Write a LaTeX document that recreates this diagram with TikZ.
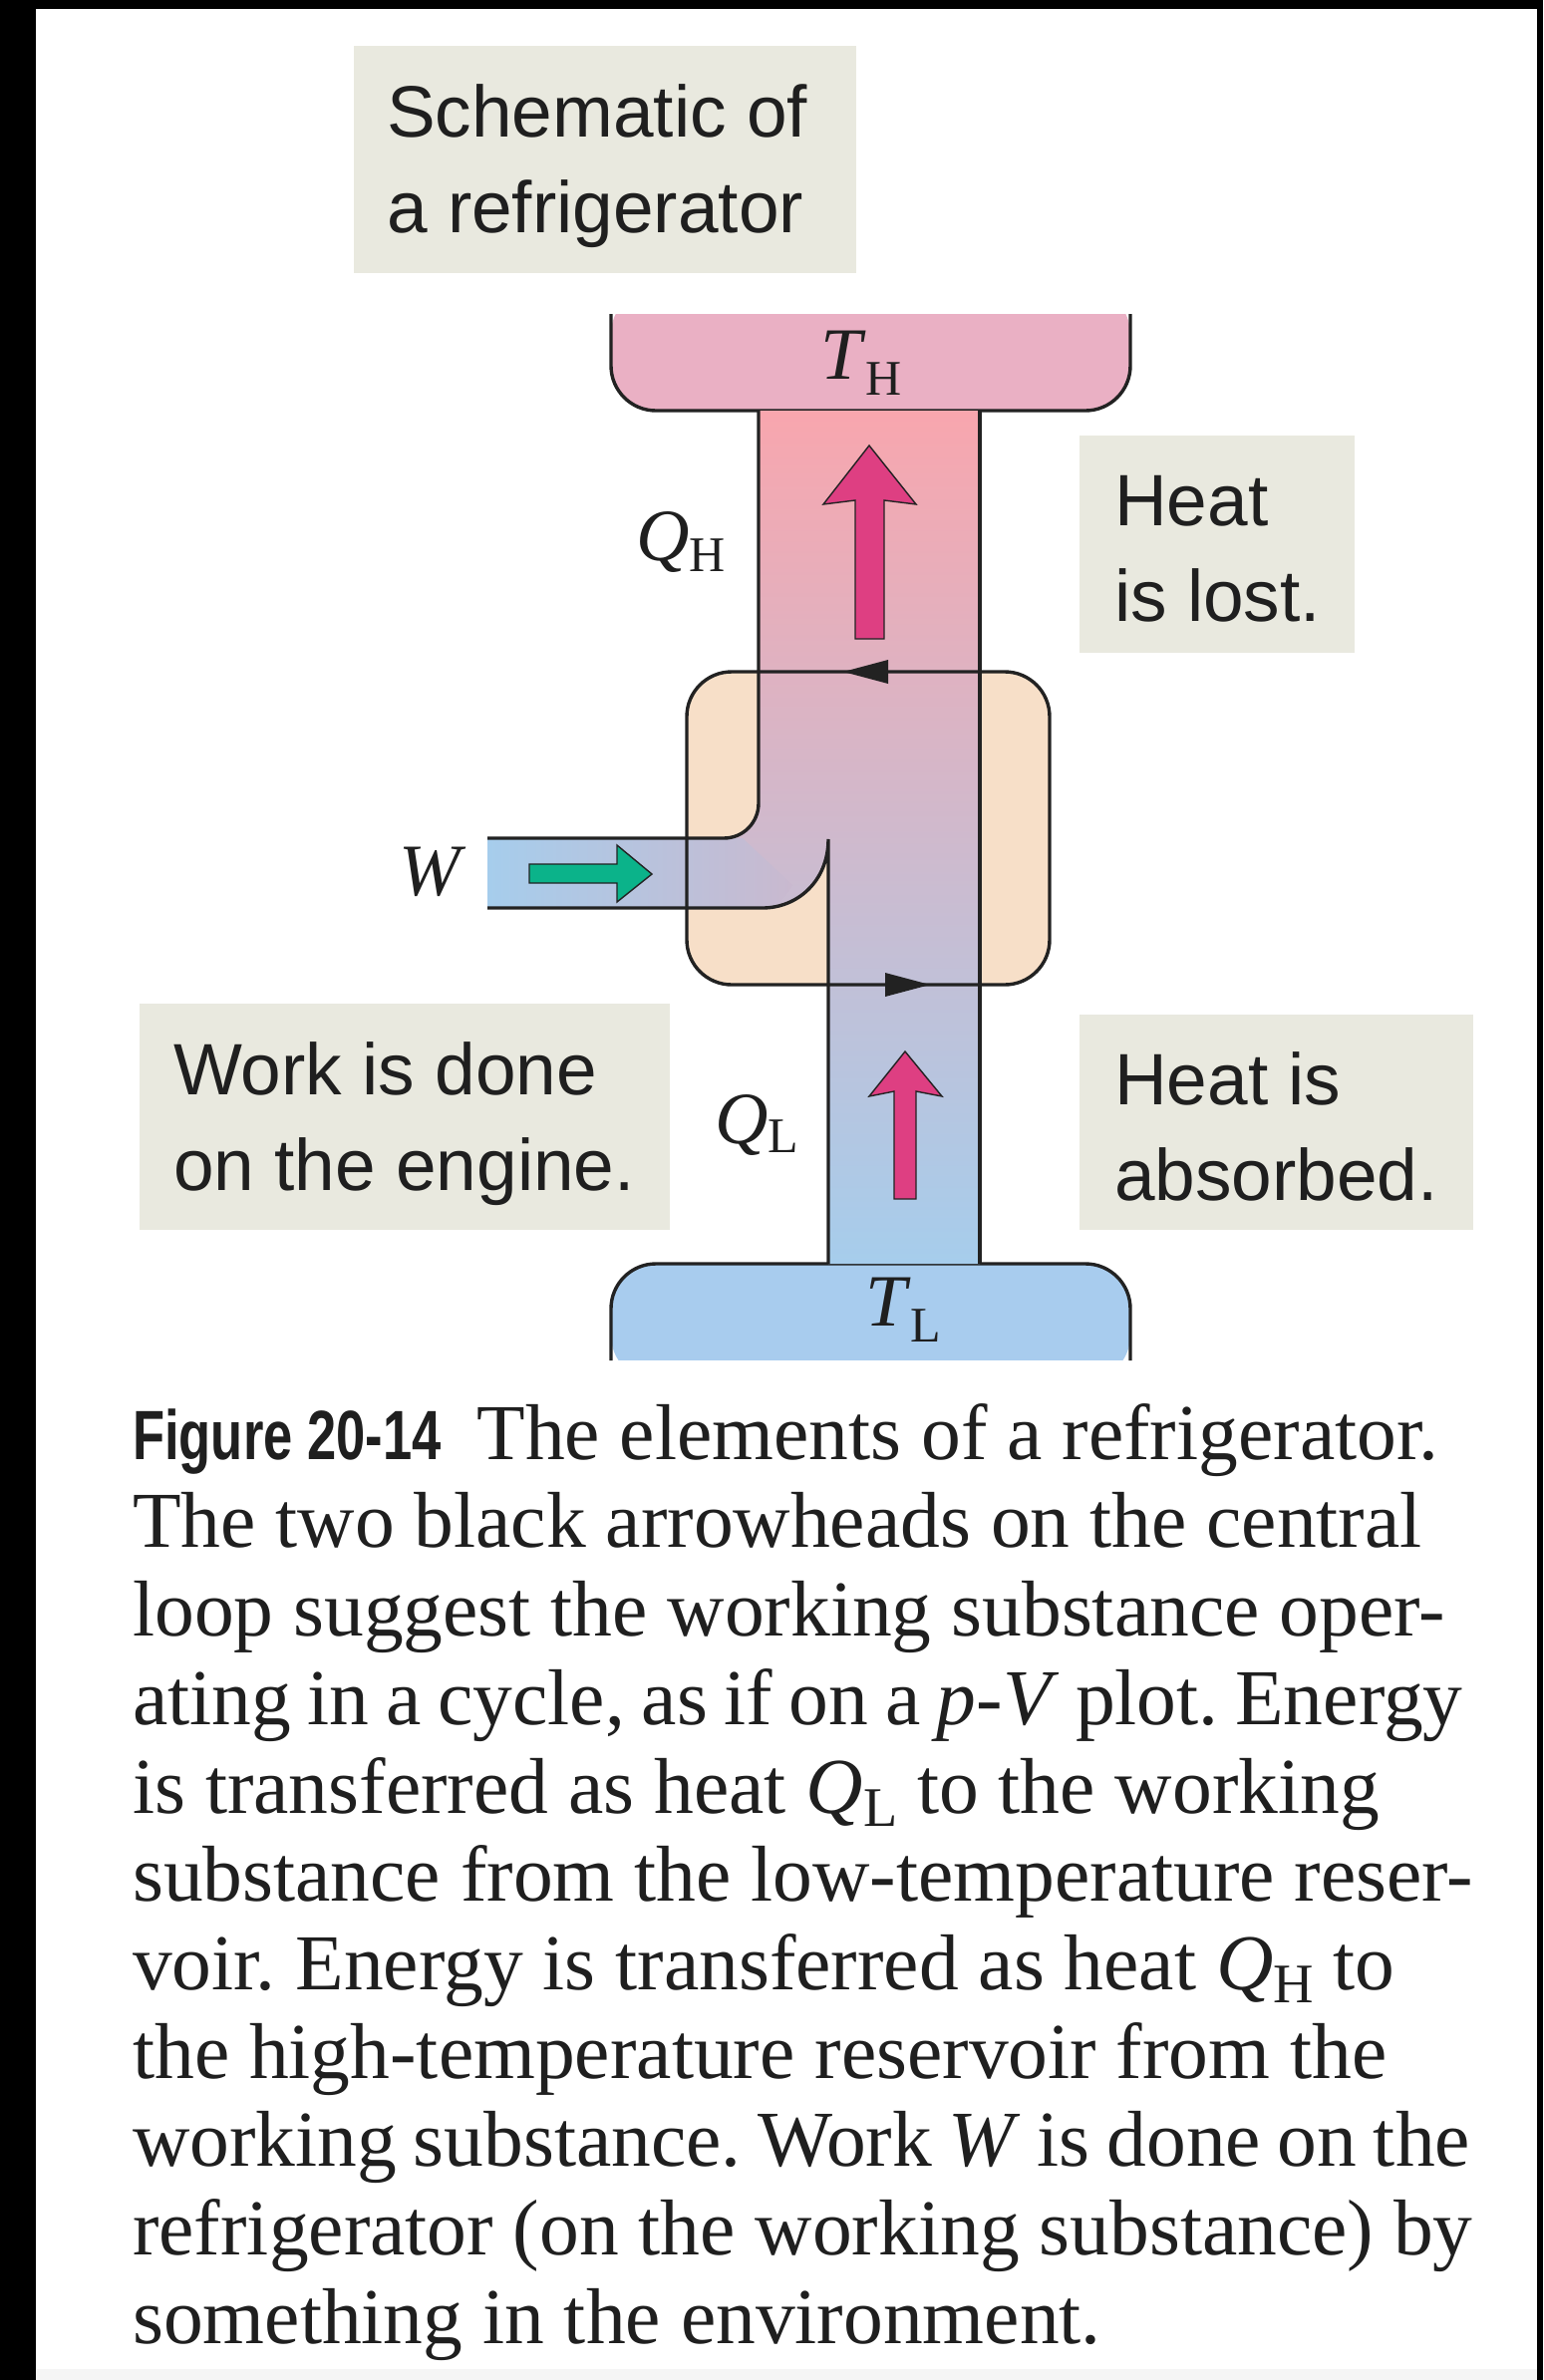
\documentclass[tikz,border=0pt]{standalone}
\usepackage{fontspec}
\setmainfont{Liberation Serif}
\setsansfont{Liberation Sans}
\newfontfamily\figfont[FakeStretch=0.75]{Liberation Sans}
\usetikzlibrary{positioning}
\definecolor{hotres}{HTML}{EAB0C4}
\definecolor{coldres}{HTML}{A8CCEE}
\definecolor{enginefill}{HTML}{F7DFC8}
\definecolor{notefill}{HTML}{E9E9DF}
\definecolor{hotflow}{HTML}{F8A6AE}
\definecolor{coldflow}{HTML}{A6CDEC}
\definecolor{pipemix}{HTML}{C9B9CF}
\definecolor{pinkarrow}{HTML}{DE3F82}
\definecolor{greenarrow}{HTML}{0BB38A}
\definecolor{inkline}{HTML}{222222}
\newcommand{\subsc}[2][-16pt]{{\fontsize{50}{50}\selectfont\raisebox{#1}{#2}}}
\newcommand{\capsub}[1]{{\fontsize{56}{56}\selectfont\raisebox{-13pt}{#1}}}
\newcommand{\tightline}[1]{{\spaceskip=0.21em\relax #1}}
\tikzset{
  x=1pt,y=-1pt,
  outl/.style={draw=inkline,line width=3.4pt},
  notebox/.style={fill=notefill,draw=none},
  notetext/.style={font=\sffamily\fontsize{73}{96}\selectfont,text=black!88,align=left,inner sep=0pt,anchor=base west},
  symb/.style={font=\fontsize{74}{74}\selectfont,text=black!88,inner sep=0pt,anchor=base west},
  captxt/.style={font=\fontsize{79.5}{88.7}\selectfont\frenchspacing,text=black!88,align=left,inner sep=0pt,anchor=north west},
  flowarrow/.style={draw=inkline,line width=1.4pt,line join=miter},
  blackhead/.style={fill=inkline,draw=none},
}
\begin{document}
\begin{tikzpicture}
\useasboundingbox (0,0) rectangle (1548,2388);
% frame
\fill[black] (0,0) rectangle (1548,2388);
\fill[white] (36,9) rectangle (1542,2377);
\fill[black!4] (36,2377) rectangle (1542,2388);
% note boxes
\fill[notebox] (355,46) rectangle (859,274);
\fill[notebox] (1083,437) rectangle (1359,655);
\fill[notebox] (140,1007) rectangle (672,1234);
\fill[notebox] (1083,1018) rectangle (1478,1234);
\node[notetext] (n1a) at (388,137) {Schematic of};
\node[notetext] (n1b) at (388,233) {a refrigerator};
\node[notetext] (n2a) at (1118,527) {Heat};
\node[notetext] (n2b) at (1118,623) {is lost.};
\node[notetext] (n3a) at (174,1098) {Work is done};
\node[notetext] (n3b) at (174,1194) {on the engine.};
\node[notetext] (n4a) at (1118,1108) {Heat is};
\node[notetext] (n4b) at (1118,1204) {absorbed.};
% reservoirs
\fill[hotres,rounded corners=45pt] (613,290) -- (613,412) -- (1134,412) -- (1134,290) -- cycle;
\fill[white] (600,280) rectangle (1150,315);
\fill[coldres,rounded corners=45pt] (613,1385) -- (613,1268) -- (1134,1268) -- (1134,1385) -- cycle;
\fill[white] (600,1365) rectangle (1150,1400);
\draw[outl,rounded corners=45pt] (613,315) -- (613,412) -- (1134,412) -- (1134,315);
\draw[outl,rounded corners=45pt] (613,1365) -- (613,1268) -- (1134,1268) -- (1134,1365);
% engine
\fill[enginefill,rounded corners=45pt] (689,674) rectangle (1053,988);
% working substance column
\path[top color=hotflow,bottom color=coldflow]
  (761,412) -- (983,412) -- (983,1268) -- (831,1268) -- (831,842)
  .. controls (831,884) and (800,911) .. (765,911) -- (489,911) -- (489,841)
  -- (726,841) .. controls (746,841) and (761,825) .. (761,806) -- cycle;
% pipe gradient
\path[left color=coldflow,right color=pipemix]
  (489,841) -- (745,841) -- (795,888) .. controls (786,903) and (776,911) .. (765,911) -- (489,911) -- cycle;
% outlines
\draw[outl] (761,412) -- (761,806) .. controls (761,825) and (746,841) .. (726,841) -- (489,841);
\draw[outl] (489,911) -- (765,911) .. controls (800,911) and (831,884) .. (831,842) -- (831,1268);
\draw[outl] (983,412) -- (983,1268);
\draw[outl,rounded corners=45pt] (689,674) rectangle (1053,988);
% black arrowheads
\fill[blackhead] (846,674) -- (891,662) -- (891,686) -- cycle;
\fill[blackhead] (933,988) -- (888,976) -- (888,1000) -- cycle;
% flow arrows
\draw[flowarrow,fill=pinkarrow] (872,447) -- (919,506) -- (887,502) -- (887,641) -- (858,641) -- (858,502) -- (826,506) -- cycle;
\draw[flowarrow,fill=pinkarrow] (908,1055) -- (945,1100) -- (919,1095) -- (919,1203) -- (897,1203) -- (897,1095) -- (872,1100) -- cycle;
\draw[flowarrow,fill=greenarrow] (531,867) -- (619,867) -- (619,848) -- (654,877) -- (619,905) -- (619,886) -- (531,886) -- cycle;
% symbols
\node[symb] (th) at (823,380) {\textit{T}\subsc{H}};
\node[symb] (qh) at (638,562) {\textit{Q}\subsc[-11pt]{H}};
\node[symb] (w)  at (400,898) {\textit{W}};
\node[symb] (ql) at (717,1147) {\textit{Q}\subsc[-9pt]{L}};
\node[symb] (tl) at (868,1330) {\textit{T}\subsc{L}};
% caption
\node[captxt] (cap) at (133,1408) {{\figfont\bfseries\fontsize{70}{88.7}\selectfont Figure 20-14}\hspace{36pt}The elements of a refrigerator.\\
The two black arrowheads on the central\\
loop suggest the working substance oper-\\
\tightline{ating in a cycle, as if on a \textit{p}-\textit{V} plot. Energy}\\
is transferred as heat \textit{Q}\capsub{L} to the working\\
substance from the low-temperature reser-\\
voir. Energy is transferred as heat \textit{Q}\capsub{H} to\\
the high-temperature reservoir from the\\
\tightline{working substance. Work \textit{W} is done on the}\\
refrigerator (on the working substance) by\\
something in the environment.};
\end{tikzpicture}
\end{document}
